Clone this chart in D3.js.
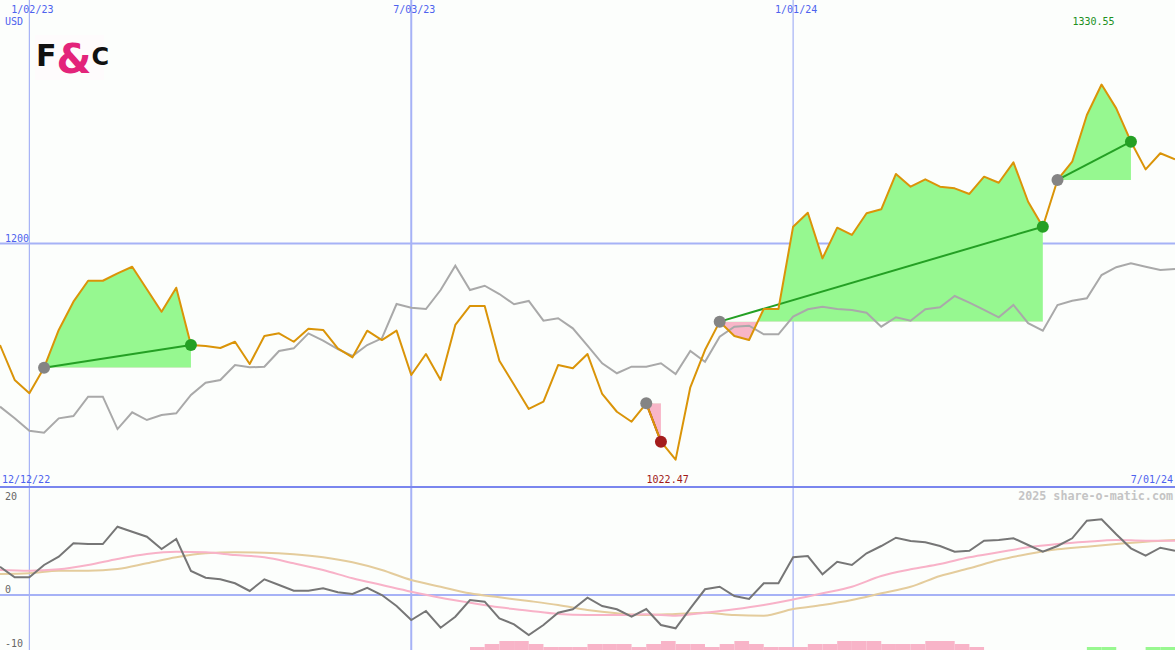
<!DOCTYPE html>
<html><head><meta charset="utf-8">
<script src="https://cdn.jsdelivr.net/npm/d3@7"></script>
<style>body{margin:0;background:#fcfefc;} svg{display:block}</style>
</head><body><svg id="c" width="1175" height="650"></svg>
<script>
// ---------- DATA ----------
const firstWeek = new Date(2022, 11, 19);
const lastWeek = new Date(2024, 6, 1);
const tickDates = [new Date(2023, 0, 2), new Date(2023, 6, 3), new Date(2024, 0, 1)];
const tickLabels = ["1/02/23", "7/03/23", "1/01/24"];
const priceTicks = [1200];
const oscTicks = [20, 0, -10];

// weekly closing price (USD)
const price = [1116.6,1087.9,1077.0,1098.0,1129.0,1152.2,1169.4,1169.4,1175.5,1180.9,
 1162.4,1144.0,1163.7,1116.6,1115.8,1114.2,1119.3,1101.0,1124.0,1126.2,
 1119.3,1130.0,1129.0,1113.9,1106.5,1128.4,1120.7,1128.4,1092.0,1109.2,
 1087.9,1133.1,1148.7,1148.7,1103.7,1084.0,1064.1,1070.1,1100.2,1097.5,
 1109.2,1076.4,1061.8,1053.6,1068.7,1037.2,1022.47,1081.9,1112.5,1135.8,
 1124.0,1120.7,1146.2,1146.2,1213.8,1225.3,1187.8,1213.0,1207.0,1224.8,
 1228.1,1257.1,1246.7,1252.7,1246.7,1245.3,1240.7,1254.9,1249.9,1266.7,
 1234.3,1213.8,1252.2,1267.2,1305.5,1330.55,1311.0,1283.6,1260.9,1274.1,1269.2];

// comparison index (rebased, grey)
const compare = [1066.0,1056.4,1046.2,1044.6,1056.4,1058.3,1074.2,1074.2,1047.6,1061.4,
 1055.0,1059.1,1060.5,1075.6,1085.7,1087.9,1100.2,1098.3,1098.8,1111.7,
 1113.9,1126.2,1120.2,1113.3,1107.6,1116.6,1122.1,1150.3,1147.3,1146.2,
 1161.8,1181.8,1161.8,1165.3,1158.5,1150.1,1152.8,1136.6,1138.6,1130.3,
 1116.2,1101.6,1093.4,1098.8,1098.8,1101.6,1092.8,1111.7,1102.9,1123.4,
 1131.7,1132.5,1125.4,1125.4,1139.9,1146.0,1148.1,1146.2,1145.4,1143.2,
 1131.7,1139.4,1136.6,1146.0,1147.6,1156.9,1151.4,1145.4,1139.4,1149.5,
 1134.5,1128.4,1149.5,1153.0,1155.0,1174.1,1180.5,1183.7,1180.9,1178.2,1179.1];

// trades: entry / exit week index
const tradeEntry = [3, 44, 49, 72];
const tradeExit = [13, 45, 71, 77];

// lower panel: momentum oscillator (weekly)
const osc = [5.29,3.31,3.31,5.61,7.16,9.66,9.53,9.53,12.77,11.83,
 10.90,8.60,10.47,4.49,3.23,2.93,2.19,0.75,2.93,1.87,
 0.80,0.80,1.25,0.50,0.19,1.36,0.00,-2.06,-4.67,-2.99,
 -6.11,-4.06,-0.93,-1.25,-4.36,-5.48,-7.48,-5.61,-3.31,-2.67,
 -0.50,-2.06,-2.67,-4.06,-2.62,-5.61,-6.22,-2.49,1.07,1.55,
 -0.19,-0.75,2.19,2.19,7.05,7.29,3.87,6.22,5.61,7.79,
 9.16,10.71,10.09,9.85,9.16,8.09,8.28,10.15,10.28,10.60,
 9.35,8.09,9.16,10.60,13.89,14.15,11.35,8.73,7.35,8.84,8.28];

// smoothed averages, sampled every second week
const maPink = [4.67,4.54,4.80,5.61,6.73,7.66,8.09,7.98,7.48,7.05,
 5.93,4.67,3.12,1.87,0.62,-0.50,-1.44,-2.30,-2.93,-3.55,
 -3.74,-3.74,-3.61,-3.87,-3.31,-2.67,-1.87,-0.84,0.32,1.55,
 3.55,4.80,5.79,7.05,7.98,8.92,9.53,9.96,10.28,10.15,10.15];
const maTan = [3.93,4.06,4.54,4.54,4.86,5.93,7.05,7.79,7.98,7.91,
 7.61,7.05,6.11,4.67,2.80,1.55,0.32,-0.43,-1.12,-1.87,
 -2.80,-3.42,-3.74,-3.55,-3.31,-3.74,-3.87,-2.62,-1.87,-0.93,
 0.32,1.55,3.55,4.99,6.54,7.66,8.54,9.03,9.53,9.96,10.28];

// signal histogram (negative = pink, positive = green), weekly
const histogram = [0,0,0,0,0,0,0,0,0,0, 0,0,0,0,0,0,0,0,0,0,
 0,0,0,0,0,0,0,0,0,0, 0,0,-1,-2,-3,-3,-2,-1,-1,-1,
 -2,-2,-2,-1,-2,-3,-2,-2,-1,-2, -3,-2,-1,-1,-1,-2,-2,-3,-3,-3,
 -2,-2,-2,-3,-3,-2,-1,0,0,0, 0,0,0,0,1,1,0,0,1,1,0];

// ---------- CHART ----------
const W = 1175, H = 650;
const svg = d3.select("#c");
svg.append("rect").attr("width", W).attr("height", H).attr("fill", "#fcfefc");

const weeks = d3.timeMonday.range(firstWeek, d3.timeDay.offset(lastWeek, 1));
const weeks2 = weeks.filter((d, i) => i % 2 === 0);

const x = d3.scaleTime().domain([firstWeek, lastWeek]).range([0, W]);
const y = d3.scaleLinear().domain([1000, 1400]).range([487, 0]);
const yo = d3.scaleLinear().domain([-10.28, 20.19]).range([650, 487]);
const yh = d3.scaleLinear().domain([0, 3]).range([650, 641]);

const F = "'DejaVu Sans Mono', monospace";
const gridC = "#a6b2f6";

// grid
tickDates.forEach((d, i) => {
  svg.append("line").attr("x1", x(d)).attr("x2", x(d)).attr("y1", 0).attr("y2", H)
    .attr("stroke", gridC).attr("stroke-width", i === 1 ? 2 : 1.2);
  svg.append("text").attr("x", x(d) + 3).attr("y", 13).attr("text-anchor", "middle")
    .attr("font-family", F).attr("font-size", 10).attr("fill", "#4d62ee").text(tickLabels[i]);
});
priceTicks.forEach(t => {
  svg.append("line").attr("x1", 0).attr("x2", W).attr("y1", y(t)).attr("y2", y(t))
    .attr("stroke", gridC).attr("stroke-width", 2);
  svg.append("text").attr("x", 5).attr("y", y(t) - 2).attr("font-family", F).attr("font-size", 10)
    .attr("fill", "#4d62ee").text(t);
});
svg.append("line").attr("x1", 0).attr("x2", W).attr("y1", yo(0)).attr("y2", yo(0))
  .attr("stroke", gridC).attr("stroke-width", 2);
svg.append("line").attr("x1", 0).attr("x2", W).attr("y1", 487).attr("y2", 487)
  .attr("stroke", "#7a86ee").attr("stroke-width", 2);

svg.append("text").attr("x", 5).attr("y", 25).attr("font-family", F).attr("font-size", 10)
  .attr("fill", "#4d62ee").text("USD");
svg.append("text").attr("x", 2).attr("y", 483).attr("font-family", F).attr("font-size", 10)
  .attr("fill", "#4d62ee").text("12/12/22");
svg.append("text").attr("x", W - 2).attr("y", 483).attr("text-anchor", "end").attr("font-family", F)
  .attr("font-size", 10).attr("fill", "#4d62ee").text("7/01/24");
svg.append("text").attr("x", W - 2).attr("y", 500).attr("text-anchor", "end").attr("font-family", F)
  .attr("font-size", 11.7).attr("font-weight", "bold").attr("fill", "#c4c4c4").text("2025 share-o-matic.com");

oscTicks.forEach(t => {
  const yy = t === 20 ? 500 : yo(t) - 2;
  svg.append("text").attr("x", 5).attr("y", yy).attr("font-family", F).attr("font-size", 10)
    .attr("fill", "#666").text(t);
});

// trade areas
const defs = svg.append("defs");
tradeEntry.forEach((e, k) => {
  const ex = tradeExit[k];
  const lvl = price[e];
  const pts = d3.range(e, ex + 1);
  const area = d3.area().x(i => x(weeks[i])).y0(y(lvl)).y1(i => y(price[i]));
  defs.append("clipPath").attr("id", "up" + k).append("rect")
    .attr("x", 0).attr("y", 0).attr("width", W).attr("height", y(lvl));
  defs.append("clipPath").attr("id", "dn" + k).append("rect")
    .attr("x", 0).attr("y", y(lvl)).attr("width", W).attr("height", 487 - y(lvl));
  svg.append("path").datum(pts).attr("d", area).attr("fill", "#96f890").attr("clip-path", `url(#up${k})`);
  svg.append("path").datum(pts).attr("d", area).attr("fill", "#f8b6c8").attr("clip-path", `url(#dn${k})`);
});

// comparison line
const line = d3.line().x((d, i) => x(weeks[i])).y(d => y(d));
svg.append("path").datum(compare).attr("d", line).attr("fill", "none")
  .attr("stroke", "#a9a9a9").attr("stroke-width", 2);

// trade lines
tradeEntry.forEach((e, k) => {
  const ex = tradeExit[k];
  const win = price[ex] >= price[e];
  svg.append("line").attr("x1", x(weeks[e])).attr("y1", y(price[e]))
    .attr("x2", x(weeks[ex])).attr("y2", y(price[ex]))
    .attr("stroke", win ? "#24a024" : "#a01c1c").attr("stroke-width", 2);
});

// price line
svg.append("path").datum(price).attr("d", line).attr("fill", "none")
  .attr("stroke", "#da9408").attr("stroke-width", 2).attr("stroke-linejoin", "round");

// dots
tradeEntry.forEach((e, k) => {
  const ex = tradeExit[k];
  const win = price[ex] >= price[e];
  svg.append("circle").attr("cx", x(weeks[e])).attr("cy", y(price[e])).attr("r", 6).attr("fill", "#848484");
  svg.append("circle").attr("cx", x(weeks[ex])).attr("cy", y(price[ex])).attr("r", 6)
    .attr("fill", win ? "#24a024" : "#a41c1c");
});

// max / min labels
const iMax = d3.maxIndex(price), iMin = d3.minIndex(price);
svg.append("text").attr("x", x(weeks[iMax]) - 8).attr("y", 25).attr("text-anchor", "middle")
  .attr("font-family", F).attr("font-size", 10).attr("fill", "#20901c").text(d3.format(".2f")(price[iMax]));
svg.append("text").attr("x", x(weeks[iMin]) - 8).attr("y", 483).attr("text-anchor", "middle")
  .attr("font-family", F).attr("font-size", 10).attr("fill", "#a01818").text(d3.format(".2f")(price[iMin]));

// logo (single text with styled parts)
const logo = svg.append("g");
logo.append("rect").attr("x", 35).attr("y", 35).attr("width", 69).attr("height", 45).attr("fill", "#fefbfc");
const lt = logo.append("text").attr("x", 36).attr("y", 66)
  .attr("font-family", "'DejaVu Sans', sans-serif").attr("font-weight", "bold");
lt.append("tspan").attr("font-size", 30).attr("fill", "#111").text("F");
lt.append("tspan").attr("font-size", 40).attr("fill", "#e3237a").attr("dy", 7).text("&");
lt.append("tspan").attr("font-size", 24).attr("fill", "#111").attr("dy", -8).text("C");
</script>
<script>
// lower panel
svg.append("g").selectAll("rect").data(histogram.map((v, i) => ({v, i})).filter(d => d.v !== 0))
  .join("rect")
  .attr("x", d => x(weeks[d.i])).attr("width", d => x(weeks[1]) - x(weeks[0]))
  .attr("y", d => yh(Math.abs(d.v))).attr("height", d => yh(0) - yh(Math.abs(d.v)))
  .attr("fill", d => d.v < 0 ? "#f8b4c8" : "#98f890");

const lineO = d3.line().x((d, i) => x(weeks[i])).y(d => yo(d));
const lineM = d3.line().x((d, i) => x(weeks2[i])).y(d => yo(d)).curve(d3.curveMonotoneX);
svg.append("path").datum(maTan).attr("d", lineM).attr("fill", "none").attr("stroke", "#e4cc9c").attr("stroke-width", 2);
svg.append("path").datum(maPink).attr("d", lineM).attr("fill", "none").attr("stroke", "#f8b2c8").attr("stroke-width", 2);
svg.append("path").datum(osc).attr("d", lineO).attr("fill", "none").attr("stroke", "#767676").attr("stroke-width", 2);
</script></body></html>
